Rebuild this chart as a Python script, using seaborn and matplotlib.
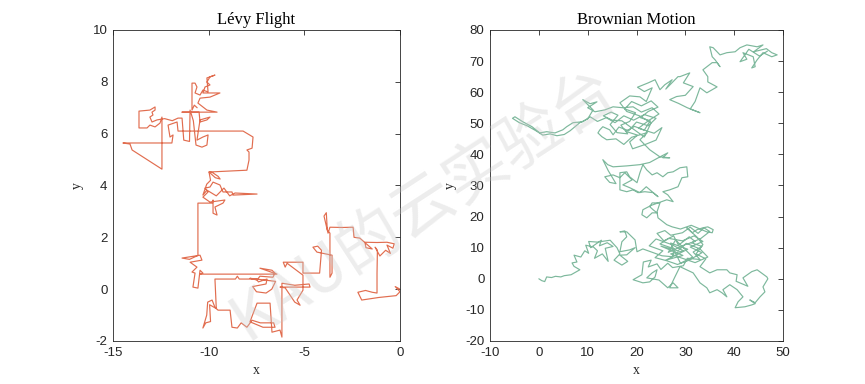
import matplotlib
matplotlib.use("Agg")
import matplotlib.pyplot as plt
import pandas as pd
import seaborn as sns

# ---------------- data ----------------
levy_path = [
    (0.0, 0.0), (-0.25, 0.1), (0.0, -0.1), (-0.2, -0.25), (-1.1, -0.32), (-2.0, -0.42),
    (-2.2, -0.12), (-1.8, -0.05), (-1.45, -0.12), (-1.2, -0.15), (-1.2, 0.6), (-1.18, 1.5),
    (-1.3, 1.62), (-1.05, 1.28), (-0.75, 1.5), (-0.5, 1.38), (-0.68, 1.7), (-0.37, 1.58),
    (-0.3, 1.75), (-0.68, 1.81), (-1.2, 1.8), (-1.83, 1.81), (-1.78, 1.6), (-1.45, 1.55),
    (-2.1, 1.97), (-2.4, 2.0), (-2.45, 2.39), (-3.0, 2.38), (-3.66, 2.39), (-3.76, 2.16),
    (-3.8, 2.3), (-3.85, 2.95), (-3.97, 2.82), (-3.8, 2.28), (-3.66, 2.16), (-3.66, 1.3),
    (-3.66, 0.46), (-3.55, 0.62), (-3.55, 1.31), (-4.0, 1.38), (-4.34, 1.43), (-4.55, 1.62),
    (-4.3, 1.66), (-4.1, 1.5), (-4.2, 0.62), (-5.07, 0.62), (-5.07, 1.04), (-5.6, 1.04),
    (-6.1, 1.04), (-6.0, 0.85), (-5.9, 1.0), (-5.07, 0.54), (-5.07, -0.04), (-5.38, -0.42),
    (-5.22, -0.62), (-5.5, -0.5), (-6.0, 0.05), (-6.27, 0.08), (-4.7, 0.08), (-4.75, 0.2),
    (-5.5, 0.15), (-6.17, 0.23), (-6.17, -0.6), (-6.17, -1.2), (-6.17, -1.85), (-6.27, -1.58),
    (-6.69, -1.66), (-6.79, -0.54), (-7.47, -0.54), (-7.84, -1.26), (-7.16, -1.47), (-6.53, -1.47),
    (-6.6, -1.3), (-7.3, -1.3), (-7.73, -1.2), (-8.0, -1.47), (-8.3, -1.3), (-8.5, -1.5),
    (-8.78, -1.47), (-8.88, -0.81), (-9.51, -0.81), (-9.67, -0.7), (-9.82, -0.42), (-10.05, -0.5),
    (-10.1, -1.0), (-10.3, -1.5), (-10.15, -1.3), (-9.9, -1.25), (-9.95, -0.6), (-9.6, -0.75),
    (-9.67, 0.39), (-8.6, 0.39), (-8.5, 0.5), (-8.4, 0.39), (-7.5, 0.39), (-7.4, 0.28),
    (-6.95, 0.39), (-7.0, 0.2), (-7.7, 0.1), (-7.5, -0.1), (-7.0, -0.15), (-6.7, 0.0),
    (-6.5, 0.3), (-7.84, 0.42), (-7.47, 0.35), (-7.32, 0.5), (-6.64, 0.46), (-6.53, 0.62),
    (-6.69, 0.73), (-7.32, 0.81), (-6.43, 0.58), (-8.5, 0.58), (-10.45, 0.58), (-10.3, 0.62),
    (-10.45, 0.73), (-10.56, 0.04), (-10.82, 0.08), (-10.71, 0.62), (-10.87, 0.66), (-10.61, 0.85),
    (-10.97, 1.04), (-10.35, 1.12), (-10.45, 1.31), (-11.39, 1.2), (-11.0, 1.15), (-10.56, 1.3),
    (-10.56, 2.3), (-10.56, 3.32), (-9.82, 3.32), (-9.77, 3.44), (-9.77, 2.93), (-9.56, 2.86),
    (-9.67, 3.17), (-9.25, 3.32), (-9.15, 3.44), (-9.93, 3.36), (-10.3, 3.55), (-10.03, 3.75),
    (-10.19, 3.9), (-9.93, 3.94), (-9.77, 4.13), (-9.41, 4.02), (-9.25, 3.75), (-8.78, 3.75),
    (-8.73, 3.63), (-7.47, 3.67), (-8.62, 3.71), (-8.9, 3.6), (-9.2, 3.9), (-9.6, 3.6),
    (-10.09, 3.82), (-10.3, 3.63), (-10.1, 4.05), (-9.9, 4.2), (-9.95, 4.4), (-9.98, 4.52),
    (-9.8, 4.5), (-9.5, 4.35), (-9.4, 4.25), (-9.65, 4.3), (-9.98, 4.52), (-8.0, 4.59),
    (-7.89, 4.98), (-7.89, 5.29), (-8.0, 5.37), (-7.73, 5.44), (-7.68, 5.87), (-8.2, 6.1),
    (-9.5, 6.1), (-11.0, 6.1), (-11.6, 6.1), (-11.65, 6.45), (-12.12, 6.33), (-12.02, 5.87),
    (-11.86, 5.95), (-11.92, 5.64), (-13.0, 5.64), (-14.48, 5.64), (-14.11, 5.6), (-14.0, 5.37),
    (-12.44, 4.63), (-12.44, 5.6), (-12.44, 6.64), (-12.54, 6.41), (-12.8, 6.26), (-13.07, 6.33),
    (-13.22, 6.22), (-13.48, 6.22), (-13.64, 6.22), (-13.64, 6.87), (-13.07, 6.91), (-12.8, 7.03),
    (-12.8, 6.91), (-12.96, 6.83), (-12.91, 6.72), (-13.07, 6.64), (-12.96, 6.45), (-12.7, 6.53),
    (-12.3, 6.58), (-11.9, 6.5), (-11.6, 6.6), (-11.39, 6.6), (-11.3, 5.75), (-11.0, 5.7),
    (-10.97, 6.91), (-10.8, 6.5), (-10.66, 5.56), (-10.35, 5.48), (-10.09, 5.56), (-10.03, 5.95),
    (-10.3, 5.87), (-10.61, 5.75), (-10.45, 6.53), (-9.93, 6.64), (-10.09, 6.53), (-10.45, 6.45),
    (-10.5, 6.83), (-11.39, 6.83), (-9.56, 6.83), (-10.09, 6.91), (-10.3, 7.03), (-10.56, 7.18),
    (-10.45, 7.37), (-9.93, 7.41), (-9.67, 7.49), (-9.41, 7.57), (-10.3, 7.57), (-10.19, 7.8),
    (-9.93, 7.88), (-10.09, 7.99), (-9.93, 8.19), (-9.67, 8.26), (-10.09, 8.15), (-10.03, 7.61),
    (-10.3, 7.68), (-10.45, 7.49), (-10.71, 7.57), (-10.61, 7.8), (-10.71, 7.95), (-10.87, 7.95),
    (-10.87, 6.91), (-10.75, 7.1), (-10.6, 7.0),
]

brown_path = [
    (0.0, 0.0), (0.6, -0.6), (1.2, -0.9), (1.6, 0.6), (2.6, 0.4), (3.4, 0.8), (4.5, 0.6),
    (5.2, 1.0), (6.6, 1.3), (8.4, 2.9), (7.2, 4.0), (6.8, 5.1), (7.8, 5.4), (7.2, 7.6),
    (8.6, 7.0), (9.4, 9.0), (10.2, 8.2), (9.6, 10.8), (11.2, 10.2), (12.0, 9.0), (11.4, 6.6),
    (13.0, 8.0), (14.2, 5.6), (13.6, 9.8), (15.2, 10.4), (14.0, 11.6), (12.4, 10.6),
    (12.8, 12.4), (10.6, 10.0), (10.2, 12.0), (12.0, 11.8), (14.6, 12.4), (16.0, 10.0),
    (16.6, 8.0), (15.4, 6.0), (17.0, 4.4), (18.2, 5.6), (16.6, 7.6), (18.0, 7.7), (19.7, 10.0),
    (18.6, 9.3), (16.6, 8.7), (17.0, 11.9), (18.0, 13.5), (17.6, 15.4), (16.6, 15.1),
    (18.0, 15.1), (19.7, 12.5), (20.1, 8.7), (21.3, 9.6), (23.4, 8.4), (25.2, 7.4), (27.3, 7.1),
    (27.8, 9.6), (24.8, 11.2), (26.6, 13.0), (29.4, 12.2), (31.8, 13.8), (33.6, 12.0),
    (31.0, 10.2), (33.4, 8.4), (30.8, 6.0), (28.4, 4.6), (26.2, 5.8), (23.8, 6.8), (25.4, 9.0),
    (22.6, 10.6), (24.0, 12.8), (27.2, 11.0), (29.6, 9.0), (27.0, 8.0), (29.0, 6.8),
    (32.0, 5.2), (34.6, 7.0), (33.0, 9.6), (30.2, 11.4),
    (28.5, 9.0), (25.0, 10.5), (29.5, 7.5), (26.0, 6.0), (30.5, 9.5), (27.0, 11.5), (29.0, 5.0),
    (31.5, 7.0), (28.0, 12.5), (26.5, 8.5), (30.0, 11.0), (32.0, 12.0), (30.8, 13.5),
    (28.6, 10.8), (27.6, 13.8), (25.6, 12.2), (24.2, 14.6), (25.8, 15.5), (27.0, 14.0),
    (29.4, 14.8), (31.0, 16.6), (32.6, 14.6), (33.8, 16.4), (35.0, 15.2), (33.2, 13.0),
    (31.2, 11.6), (33.4, 10.4), (31.6, 8.6), (33.0, 6.2), (30.4, 6.6), (29.6, 4.2), (27.4, 3.6),
    (26.4, 5.0), (25.0, 3.0), (24.2, 4.8), (22.4, 3.8), (23.0, 6.0), (21.4, 5.4), (21.1, 1.3),
    (19.3, -0.3), (21.3, -1.3), (22.7, -1.0), (23.8, 0.6), (24.2, 2.9), (23.2, 1.9), (22.1, 0.3),
    (24.6, -0.4), (26.4, -2.9), (27.5, -1.3), (28.5, -2.9), (26.8, -2.9), (27.8, 0.4),
    (28.9, 3.9), (31.6, 1.9), (33.0, -1.3), (34.4, -2.9), (35.0, -4.5), (36.5, -3.5),
    (37.5, -4.5), (38.5, -5.8), (37.7, -3.5), (39.1, -1.9), (40.6, -3.5), (41.8, -5.8),
    (40.8, -7.4), (40.2, -9.3), (42.2, -9.0), (43.6, -8.4), (44.3, -8.0), (43.2, -6.8),
    (44.3, -7.7), (45.3, -5.8), (46.3, -4.2), (45.9, -2.6), (46.9, 0.0), (46.7, 0.6),
    (44.7, 2.9), (43.6, 2.3), (41.8, 0.3), (42.8, -2.4), (40.4, -0.8), (40.6, 1.3), (39.1, 1.9),
    (38.5, 2.9), (36.5, 2.9), (35.0, 1.9), (33.0, 3.9), (34.2, 6.4), (32.2, 8.0), (33.6, 11.0),
    (32.4, 13.4), (30.3, 16.4), (31.4, 14.8), (32.4, 15.8), (33.6, 16.4), (34.6, 16.7),
    (35.7, 15.8), (35.5, 14.8), (34.4, 15.1), (31.2, 17.2), (29.0, 16.0), (27.3, 16.7),
    (26.2, 17.4), (24.4, 19.6), (24.2, 21.5), (24.8, 24.4), (23.2, 24.4), (22.7, 23.2),
    (23.4, 22.2), (24.2, 21.2), (23.2, 21.2), (22.1, 19.6), (21.1, 20.6), (21.3, 22.2),
    (23.0, 23.6), (26.2, 25.4), (27.5, 24.8), (26.4, 27.0), (25.4, 28.0), (26.8, 28.6),
    (28.5, 29.6), (29.3, 32.5), (30.5, 32.8), (30.3, 36.0), (28.9, 35.7), (27.5, 34.4),
    (26.4, 34.1), (25.4, 32.8), (24.2, 34.1), (23.2, 33.4), (22.1, 35.0), (21.3, 36.7),
    (20.7, 34.1), (20.1, 30.9), (18.6, 32.8), (18.0, 34.4), (16.6, 34.1), (16.6, 28.6),
    (18.0, 28.0), (19.3, 28.6), (20.3, 27.7), (21.7, 28.0), (23.4, 27.7), (24.4, 26.4),
    (22.0, 29.6), (20.7, 27.7), (18.6, 29.3), (17.2, 30.2), (19.1, 31.8), (17.6, 34.1),
    (16.6, 32.5), (15.2, 33.4), (13.5, 32.8), (14.5, 31.0), (15.8, 30.6), (14.2, 34.8),
    (13.1, 38.3), (14.1, 36.7), (15.2, 36.0), (18.0, 36.3), (20.7, 36.7), (22.7, 37.4),
    (24.8, 39.2), (26.8, 38.9), (25.4, 38.9), (26.4, 40.5), (24.8, 39.2), (22.7, 41.5),
    (20.7, 44.7), (22.2, 47.0), (19.0, 45.5), (17.4, 43.2), (15.8, 45.0), (13.9, 44.7),
    (12.9, 45.7), (12.1, 46.9), (12.5, 47.9), (13.1, 48.9), (14.5, 47.9), (15.2, 46.3),
    (16.4, 48.8), (18.4, 47.6), (20.0, 50.4), (22.4, 49.2), (24.0, 51.6), (21.6, 52.8),
    (19.4, 51.0), (17.4, 52.4), (15.6, 50.2), (13.8, 51.8), (12.0, 50.6), (10.5, 52.1),
    (9.0, 50.5), (7.0, 50.2), (5.7, 48.9), (4.9, 47.9), (3.3, 46.9), (1.6, 47.3), (0.2, 46.9),
    (-1.4, 48.9), (-3.3, 50.5), (-4.9, 52.1), (-5.4, 51.6), (-4.0, 50.2), (-2.4, 49.2),
    (-0.6, 47.6), (0.8, 46.2), (2.3, 46.6), (3.7, 46.0), (5.2, 46.4), (6.4, 47.6), (7.8, 49.4),
    (8.4, 50.2), (10.0, 51.4), (11.1, 54.3), (9.0, 57.6), (10.5, 56.3), (11.9, 56.9),
    (10.0, 55.0), (11.5, 53.7), (13.5, 54.3), (15.2, 55.3), (17.2, 55.0), (19.3, 55.3),
    (21.0, 53.6), (23.2, 55.0), (24.6, 53.0), (22.6, 51.0), (20.4, 48.4), (23.6, 46.8),
    (25.2, 48.6), (24.0, 44.6), (21.8, 43.2), (19.2, 41.8), (18.6, 44.0), (20.2, 46.2),
    (17.8, 47.4), (19.6, 49.0), (21.6, 47.8), (22.8, 50.8), (20.8, 51.8), (22.4, 53.8),
    (24.4, 55.2), (23.0, 57.2), (21.0, 55.6), (19.0, 57.0), (17.6, 54.6), (19.8, 53.4),
    (18.6, 50.6), (16.8, 49.4), (18.2, 46.6), (16.0, 47.0), (14.6, 49.6), (16.2, 52.6),
    (14.8, 53.6), (13.2, 52.4), (15.0, 51.0), (17.0, 50.8), (21.6, 45.6), (23.0, 50.2),
    (20.6, 52.4), (18.0, 53.8), (16.6, 56.6), (18.6, 58.8), (20.7, 58.5), (22.0, 57.0),
    (23.2, 61.4), (21.6, 60.2), (20.2, 61.6), (22.4, 63.0), (23.8, 64.0), (24.8, 60.8),
    (25.8, 62.4), (27.3, 64.0), (26.0, 61.0), (28.5, 65.0), (28.9, 65.0), (30.9, 66.2),
    (29.6, 63.0), (31.6, 61.8), (30.0, 59.0), (28.2, 58.6), (26.8, 57.6), (28.6, 56.4),
    (30.4, 55.0), (33.0, 53.4), (31.0, 54.6), (32.0, 57.0), (33.0, 61.4), (34.4, 59.8),
    (36.5, 61.7), (34.6, 63.3), (34.6, 65.0), (33.6, 67.2), (35.5, 69.5), (36.5, 69.5),
    (37.1, 68.2), (36.1, 70.4), (35.5, 71.4), (35.0, 74.6), (35.7, 74.3), (37.1, 72.0),
    (38.5, 72.7), (40.2, 73.0), (41.2, 74.3), (42.6, 75.2), (44.7, 74.6), (45.9, 75.2),
    (44.0, 73.0), (46.6, 74.0), (47.7, 72.7), (48.8, 72.0), (47.7, 71.4), (45.9, 72.7),
    (44.7, 70.4), (43.6, 67.8), (44.3, 68.2), (43.9, 71.4), (41.8, 72.7), (42.6, 70.6),
    (41.2, 69.8), (43.0, 73.8), (45.2, 71.6), (46.8, 73.2),
]

levy_title = "Lévy Flight"
brown_title = "Brownian Motion"
levy_xticks = [-15, -10, -5, 0]
levy_yticks = [-2, 0, 2, 4, 6, 8, 10]
brown_xticks = [-10, 0, 10, 20, 30, 40, 50]
brown_yticks = [-20, -10, 0, 10, 20, 30, 40, 50, 60, 70, 80]
watermark = "KAU的云实验台"

levy_color = "#E16D4F"
brown_color = "#7DB89C"

# ---------------- figure ----------------
sns.set_theme(style="white")
plt.rcParams["font.family"] = ["Liberation Sans", "DejaVu Sans"]

fig = plt.figure(figsize=(8.65, 3.84), dpi=100)
ax1 = fig.add_axes([0.1306, 0.1120, 0.3318, 0.8099])
ax2 = fig.add_axes([0.5665, 0.1120, 0.3387, 0.8099])

df_l = pd.DataFrame(levy_path, columns=["x", "y"])
df_b = pd.DataFrame(brown_path, columns=["x", "y"])

sns.lineplot(data=df_l, x="x", y="y", sort=False, estimator=None, ax=ax1,
             color=levy_color, linewidth=0.85)
sns.lineplot(data=df_b, x="x", y="y", sort=False, estimator=None, ax=ax2,
             color=brown_color, linewidth=0.85)

for ax, title, xt, yt in [(ax1, levy_title, levy_xticks, levy_yticks),
                          (ax2, brown_title, brown_xticks, brown_yticks)]:
    ax.set_xlim(xt[0], xt[-1])
    ax.set_ylim(yt[0], yt[-1])
    ax.set_xticks(xt)
    ax.set_yticks(yt)
    ax.set_xticklabels([str(v) for v in xt])
    ax.set_yticklabels([str(v) for v in yt])
    ax.tick_params(direction="in", top=True, right=True, length=3.5, width=0.6,
                   labelsize=9.5, colors="#262626", pad=4)
    for s in ax.spines.values():
        s.set_color("#262626")
        s.set_linewidth(0.6)
    ax.set_title(title, family="Liberation Serif", fontsize=12, pad=4, color="#000000")
    ax.set_xlabel("x", family="Liberation Serif", fontsize=10, labelpad=4, color="#262626")
    ax.set_ylabel("y", family="Liberation Serif", fontsize=10, labelpad=6, color="#262626")
    ax.grid(False)

fig.text(0.49, 0.47, watermark, rotation=33, fontsize=46, color="#c8c8c8", alpha=0.33,
         family=["Noto Sans CJK SC", "DejaVu Sans"], ha="center", va="center", zorder=10)

fig.savefig("out.png", dpi=100)
